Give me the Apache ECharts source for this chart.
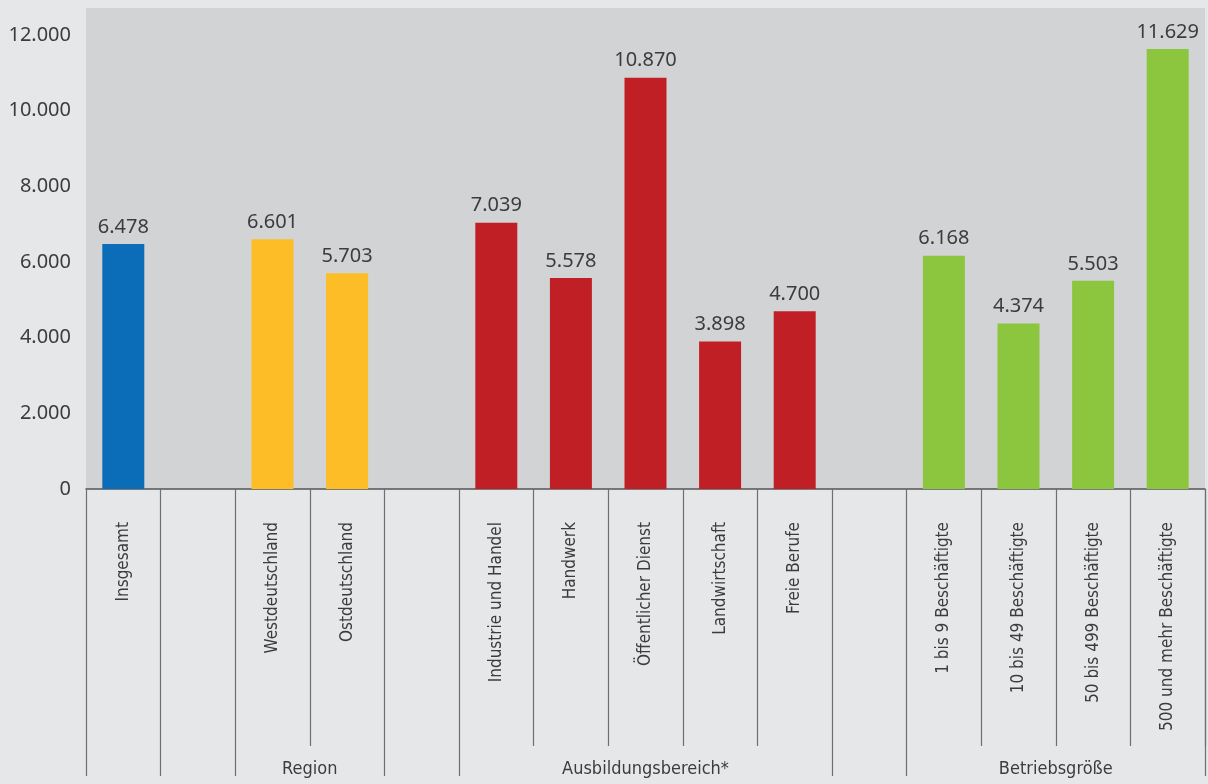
<!DOCTYPE html>
<html>
<head>
<meta charset="utf-8">
<script src="https://cdn.jsdelivr.net/npm/echarts@6/dist/echarts.min.js"></script>
<style>
html,body{margin:0;padding:0;background:#e6e7e9;}
#chart{width:1208px;height:784px;}
</style>
</head>
<body>
<div id="chart"></div>
<script>
// ---- data ----
var categories = ['Insgesamt', '', 'Westdeutschland', 'Ostdeutschland', '',
  'Industrie und Handel', 'Handwerk', 'Öffentlicher Dienst', 'Landwirtschaft', 'Freie Berufe', '',
  '1 bis 9 Beschäftigte', '10 bis 49 Beschäftigte', '50 bis 499 Beschäftigte', '500 und mehr Beschäftigte'];
var values = [6478, null, 6601, 5703, null, 7039, 5578, 10870, 3898, 4700, null, 6168, 4374, 5503, 11629];
var groupOfCategory = ['total', null, 'region', 'region', null, 'bereich', 'bereich', 'bereich', 'bereich', 'bereich', null, 'groesse', 'groesse', 'groesse', 'groesse'];
var groupNames = ['Region', 'Ausbildungsbereich*', 'Betriebsgröße'];
var groupCenters = [3, 7.5, 13];          // in category units along the axis
var longTickIdx = [0, 1, 2, 4, 5, 10, 11]; // group boundaries
var shortTickIdx = [3, 6, 7, 8, 9, 12, 13, 14];
var yTicks = [0, 2000, 4000, 6000, 8000, 10000, 12000];

// ---- styles ----
var groupColors = { total: '#0b6db7', region: '#fdbd26', bereich: '#c11f26', groesse: '#8cc63f' };
var numFont = '"Noto Sans", "Open Sans", sans-serif';
var condFont = '"DejaVu Sans Condensed", "Liberation Sans Narrow", sans-serif';
var textColor = '#3c3c3e';
var tickColor = '#6e6f72';

function fmt(v) {
  return String(Math.round(v)).replace(/\B(?=(\d{3})+(?!\d))/g, '.');
}

var chart = echarts.init(document.getElementById('chart'), null, { renderer: 'canvas' });

var option = {
  backgroundColor: '#e6e7e9',
  animation: false,
  grid: {
    left: 86, right: -1, top: 8, bottom: 295,
    show: true, backgroundColor: '#d2d3d5', borderWidth: 0,
    containLabel: false
  },
  xAxis: [
    {
      type: 'category', data: categories, position: 'bottom', gridIndex: 0,
      axisLine: { show: true, lineStyle: { color: '#555557', width: 1.5 } },
      axisTick: {
        show: true, length: 287,
        interval: function (idx) { return longTickIdx.indexOf(idx) >= 0; },
        lineStyle: { color: tickColor, width: 1.2 }
      },
      axisLabel: {
        interval: 0, rotate: 90, margin: 33,
        fontFamily: condFont, fontSize: 17, color: textColor
      },
      splitLine: { show: false }
    },
    {
      type: 'category', data: categories, position: 'bottom', gridIndex: 0,
      axisLine: { show: false },
      axisTick: {
        show: true, length: 257,
        interval: function (idx) { return shortTickIdx.indexOf(idx) >= 0; },
        lineStyle: { color: tickColor, width: 1.2 }
      },
      axisLabel: { show: false },
      splitLine: { show: false }
    },
    {
      type: 'value', position: 'bottom', gridIndex: 0,
      min: 0, max: categories.length, interval: 0.5,
      axisLine: { show: false }, axisTick: { show: false }, splitLine: { show: false },
      axisLabel: {
        margin: 271, showMinLabel: true, showMaxLabel: true,
        fontFamily: condFont, fontSize: 18, color: textColor,
        formatter: function (v) {
          var i = groupCenters.indexOf(v);
          return i >= 0 ? groupNames[i] : '';
        }
      }
    }
  ],
  yAxis: {
    type: 'value', min: 0, max: 12714, interval: 2000,
    axisLine: { show: false }, axisTick: { show: false }, splitLine: { show: false },
    axisLabel: {
      margin: 15, showMaxLabel: false,
      fontFamily: numFont, fontSize: 20, color: textColor,
      formatter: function (v) { return yTicks.indexOf(v) >= 0 ? fmt(v) : ''; }
    }
  },
  series: [{
    type: 'bar', xAxisIndex: 0, barWidth: 42,
    data: values.map(function (v, i) {
      return {
        value: v,
        itemStyle: { color: groupOfCategory[i] ? groupColors[groupOfCategory[i]] : '#999' }
      };
    }),
    label: {
      show: true, position: 'top', distance: 7,
      fontFamily: numFont, fontSize: 20, color: textColor,
      formatter: function (p) { return p.value == null ? '' : fmt(p.value); }
    }
  }]
};
chart.setOption(option);
</script>
</body>
</html>
